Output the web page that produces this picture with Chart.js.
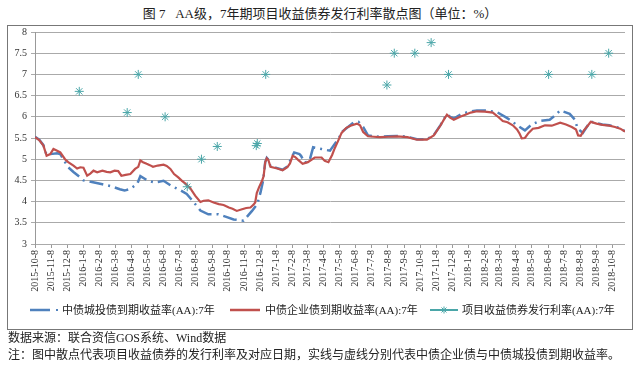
<!DOCTYPE html>
<html>
<head>
<meta charset="utf-8">
<script src="https://cdn.jsdelivr.net/npm/chart.js@4/dist/chart.umd.min.js"></script>
<style>
body { margin: 0; width: 640px; height: 366px; background: #fff; position: relative; overflow: hidden;
  font-family: "Liberation Serif", "Noto Sans CJK SC", serif; color: #222; }
#title { position: absolute; top: 6px; left: 0; width: 640px; text-align: center; font-size: 13px; line-height: 16px; }
#frame { position: absolute; left: 7px; top: 25px; width: 624px; height: 303px; border: 1px solid #777; }
#wrap { position: absolute; left: 0; top: 0; width: 640px; height: 366px; }
.lg { position: absolute; top: 303px; font-size: 11px; line-height: 14px; white-space: nowrap; }
.sw { position: absolute; top: 306px; }
.note { position: absolute; left: 8px; font-size: 12px; line-height: 16px; white-space: nowrap; }
</style>
</head>
<body>
<div id="title">图 7&nbsp;&nbsp;&nbsp;AA级，7年期项目收益债券发行利率散点图（单位：%）</div>
<div id="frame"></div>
<div id="wrap"><canvas id="chart"></canvas></div>

<svg class="sw" style="left:28px" width="34" height="8">
  <line x1="2" y1="4" x2="22" y2="4" stroke="#4f81bd" stroke-width="2.5"/>
  <rect x="28" y="3" width="2" height="2" fill="#4f81bd"/>
</svg>
<div class="lg" style="left:62px">中债城投债到期收益率(AA):7年</div>
<svg class="sw" style="left:230px" width="32" height="8">
  <line x1="0" y1="4" x2="30" y2="4" stroke="#c0504d" stroke-width="2.5"/>
</svg>
<div class="lg" style="left:265px">中债企业债到期收益率(AA):7年</div>
<svg class="sw" style="left:430px" width="30" height="8">
  <line x1="0" y1="4" x2="28" y2="4" stroke="#4aa6a8" stroke-width="2"/>
  <path d="M14 0.5V7.5M10.5 4H17.5M11.5 1.5L16.5 6.5M16.5 1.5L11.5 6.5" stroke="#4aa6a8" stroke-width="1"/>
</svg>
<div class="lg" style="left:462px">项目收益债券发行利率(AA):7年</div>

<div class="note" style="top:330px">数据来源：联合资信GOS系统、Wind数据</div>
<div class="note" style="top:347px">注：图中散点代表项目收益债券的发行利率及对应日期，实线与虚线分别代表中债企业债与中债城投债到期收益率。</div>

<script>
// x axis tick labels (one per month)
const monthLabels = [
  '2015-10-8','2015-11-8','2015-12-8','2016-1-8','2016-2-8','2016-3-8','2016-4-8','2016-5-8',
  '2016-6-8','2016-7-8','2016-8-8','2016-9-8','2016-10-8','2016-11-8','2016-12-8','2017-1-8',
  '2017-2-8','2017-3-8','2017-4-8','2017-5-8','2017-6-8','2017-7-8','2017-8-8','2017-9-8',
  '2017-10-8','2017-11-8','2017-12-8','2018-1-8','2018-2-8','2018-3-8','2018-4-8','2018-5-8',
  '2018-6-8','2018-7-8','2018-8-8','2018-9-8','2018-10-8'
];

// 中债企业债到期收益率(AA):7年
const corpDates = [
  '2015-10-08','2015-10-16','2015-10-24','2015-10-30','2015-11-06','2015-11-12','2015-11-19','2015-11-25',
  '2015-12-04','2015-12-10','2015-12-20','2015-12-27','2016-01-02','2016-01-08','2016-01-15','2016-01-21',
  '2016-01-27','2016-02-03','2016-02-13','2016-02-21','2016-02-28','2016-03-07','2016-03-14','2016-03-20',
  '2016-03-28','2016-04-06','2016-04-15','2016-04-21','2016-04-25','2016-04-30','2016-05-07','2016-05-13',
  '2016-05-19','2016-05-28','2016-06-08','2016-06-14','2016-06-21','2016-06-28','2016-07-06','2016-07-13',
  '2016-07-19','2016-07-28','2016-08-07','2016-08-17','2016-08-23','2016-09-01','2016-09-11','2016-09-21',
  '2016-09-30','2016-10-10','2016-10-17','2016-10-25','2016-11-04','2016-11-12','2016-11-20','2016-11-26',
  '2016-11-29','2016-12-02','2016-12-06','2016-12-12','2016-12-15','2016-12-18','2016-12-21','2016-12-24',
  '2016-12-28','2017-01-10','2017-01-20','2017-01-29','2017-02-03','2017-02-08','2017-02-13','2017-02-18',
  '2017-02-27','2017-03-09','2017-03-22','2017-04-04','2017-04-10','2017-04-17','2017-04-24','2017-04-29',
  '2017-05-06','2017-05-12','2017-05-21','2017-05-29','2017-06-10','2017-06-16','2017-06-22','2017-07-01',
  '2017-07-12','2017-07-24','2017-08-08','2017-08-25','2017-09-14','2017-10-02','2017-10-21','2017-11-03',
  '2017-11-16','2017-11-23','2017-11-28','2017-12-04','2017-12-11','2017-12-23','2018-01-02','2018-01-12',
  '2018-01-24','2018-02-08','2018-02-23','2018-03-06','2018-03-14','2018-03-23','2018-04-02','2018-04-10',
  '2018-04-15','2018-04-19','2018-04-25','2018-05-02','2018-05-10','2018-05-21','2018-06-02','2018-06-15',
  '2018-07-01','2018-07-12','2018-07-23','2018-07-31','2018-08-04','2018-08-09','2018-08-15','2018-08-23',
  '2018-08-28','2018-09-08','2018-09-19','2018-10-02','2018-10-13','2018-10-23','2018-11-01'
];
const corpYields = [
  5.52,5.45,5.32,5.08,5.12,5.24,5.20,5.16,
  5.00,4.93,4.85,4.78,4.81,4.80,4.61,4.66,
  4.73,4.69,4.73,4.70,4.69,4.73,4.72,4.61,
  4.63,4.65,4.77,4.82,4.97,4.93,4.89,4.86,
  4.82,4.85,4.87,4.84,4.77,4.65,4.57,4.49,
  4.43,4.33,4.14,3.99,4.02,4.03,3.98,3.94,
  3.92,3.86,3.83,3.78,3.82,3.85,3.86,3.93,
  3.98,4.20,4.33,4.49,4.60,4.93,5.02,4.98,
  4.82,4.78,4.74,4.81,4.90,5.08,5.05,4.99,
  4.89,4.93,5.04,5.04,4.96,4.93,5.10,5.26,
  5.45,5.62,5.74,5.79,5.84,5.80,5.64,5.54,
  5.53,5.52,5.53,5.54,5.52,5.46,5.46,5.56,
  5.80,5.95,6.05,5.98,5.93,6.00,6.05,6.10,
  6.13,6.12,6.10,5.99,5.90,5.87,5.80,5.70,
  5.60,5.49,5.50,5.62,5.72,5.74,5.80,5.79,
  5.86,5.82,5.76,5.70,5.56,5.55,5.68,5.80,
  5.88,5.84,5.81,5.79,5.76,5.72,5.65
];

// 中债城投债到期收益率(AA):7年
const cityDates = [
  '2015-10-08','2015-10-16','2015-10-24','2015-10-30','2015-11-06','2015-11-19','2015-11-25','2015-12-10',
  '2015-12-20','2016-01-02','2016-01-08','2016-01-24','2016-02-13','2016-03-01','2016-03-17','2016-03-26',
  '2016-04-06','2016-04-19','2016-04-25','2016-05-10','2016-05-22','2016-06-08','2016-06-23','2016-07-11',
  '2016-07-22','2016-07-31','2016-08-17','2016-09-01','2016-09-20','2016-10-05','2016-10-19','2016-11-07',
  '2016-11-23','2016-12-03','2016-12-09','2016-12-14','2016-12-18','2016-12-21','2016-12-24','2016-12-28',
  '2017-01-10','2017-01-20','2017-01-29','2017-02-11','2017-02-21','2017-02-24','2017-03-03','2017-03-12',
  '2017-03-19','2017-04-04','2017-04-20','2017-05-06','2017-05-14','2017-06-04','2017-06-13','2017-06-22',
  '2017-07-01','2017-07-12','2017-07-24','2017-08-08','2017-08-25','2017-09-14','2017-10-02','2017-10-21',
  '2017-11-03','2017-11-16','2017-11-23','2017-11-28','2017-12-04','2017-12-11','2017-12-26','2018-01-12',
  '2018-01-24','2018-02-08','2018-02-16','2018-03-03','2018-03-21','2018-03-31','2018-04-10','2018-04-25',
  '2018-05-08','2018-05-23','2018-06-11','2018-06-21','2018-07-01','2018-07-19','2018-07-29','2018-08-03',
  '2018-08-13','2018-08-23','2018-08-28','2018-09-08','2018-09-19','2018-10-02','2018-10-13','2018-10-23',
  '2018-11-01'
];
const cityYields = [
  5.53,5.46,5.33,5.10,5.12,5.14,5.12,4.81,
  4.70,4.57,4.50,4.46,4.41,4.36,4.29,4.26,
  4.30,4.42,4.60,4.49,4.45,4.49,4.37,4.26,
  4.18,4.05,3.79,3.70,3.70,3.64,3.58,3.55,
  3.78,3.94,4.21,4.49,4.93,5.03,4.99,4.83,
  4.79,4.75,4.83,5.16,5.12,5.08,4.92,4.96,
  5.28,5.24,5.20,5.48,5.66,5.87,5.88,5.76,
  5.56,5.54,5.53,5.54,5.55,5.53,5.47,5.47,
  5.57,5.81,5.96,6.06,6.00,5.96,6.07,6.13,
  6.15,6.15,6.14,6.11,5.98,5.90,5.80,5.68,
  5.82,5.90,5.93,6.03,6.15,6.07,5.93,5.72,
  5.62,5.81,5.89,5.85,5.82,5.80,5.77,5.73,
  5.66
];

// 项目收益债券发行利率(AA):7年
const issueDates = [
  '2015-12-31','2016-03-31','2016-04-21','2016-06-11','2016-07-23','2016-08-19','2016-09-18','2016-12-01',
  '2016-12-03','2016-12-19','2017-08-06','2017-08-20','2017-09-28','2017-10-29','2017-12-01','2018-06-09',
  '2018-08-30','2018-10-01'
];
const issueRates = [
  6.6,6.1,7.0,6.0,4.35,5.0,5.3,5.32,
  5.37,7.0,6.75,7.5,7.5,7.75,7.0,7.0,
  7.0,7.5
];

const startDay = Date.UTC(2015, 9, 8);
function dayOf(s) {
  const [y, m, d] = s.split('-').map(Number);
  return (Date.UTC(y, m - 1, d) - startDay) / 86400000;
}
const tickDays = monthLabels.map(dayOf);
const toPoints = (dates, vals) => dates.map((d, i) => ({ x: dayOf(d), y: vals[i] }));

const ctx = document.getElementById('chart').getContext('2d');
new Chart(ctx, {
  type: 'line',
  data: {
    datasets: [
      {
        label: '项目收益债券发行利率(AA):7年',
        data: toPoints(issueDates, issueRates),
        showLine: false,
        pointStyle: 'star',
        pointRadius: 4.5,
        pointBorderWidth: 1,
        borderColor: '#4aa6a8',
        backgroundColor: '#4aa6a8',
        order: 0
      },
      {
        label: '中债企业债到期收益率(AA):7年',
        data: toPoints(corpDates, corpYields),
        borderColor: '#c0504d',
        borderWidth: 2.2,
        pointRadius: 0,
        tension: 0,
        order: 1
      },
      {
        label: '中债城投债到期收益率(AA):7年',
        data: toPoints(cityDates, cityYields),
        borderColor: '#4f81bd',
        borderWidth: 2.5,
        borderDash: [14, 5, 2, 5],
        pointRadius: 0,
        tension: 0,
        order: 2
      }
    ]
  },
  options: {
    animation: false,
    responsive: true,
    maintainAspectRatio: false,
    layout: { padding: { top: 32, right: 15, left: 0, bottom: 0 } },
    plugins: { legend: { display: false }, tooltip: { enabled: false } },
    scales: {
      x: {
        type: 'linear',
        min: 0,
        max: dayOf('2018-11-01'),
        afterBuildTicks: s => { s.ticks = tickDays.map(v => ({ value: v })); },
        afterFit: s => { s.height = 122; },
        grid: { drawOnChartArea: false, drawTicks: true, tickLength: 4, color: '#999' },
        border: { display: false },
        ticks: {
          autoSkip: false, minRotation: 90, maxRotation: 90, padding: 2,
          color: '#333', font: { family: 'Liberation Serif', size: 10 },
          callback: (v, i) => monthLabels[i]
        }
      },
      y: {
        min: 3,
        max: 8,
        afterFit: s => { s.width = 35; },
        grid: { color: '#aaa', tickLength: 4 },
        border: { color: '#999' },
        ticks: {
          stepSize: 0.5, padding: 4, color: '#333',
          font: { family: 'Liberation Serif', size: 10 },
          callback: v => String(v)
        }
      }
    }
  }
});
</script>
</body>
</html>
